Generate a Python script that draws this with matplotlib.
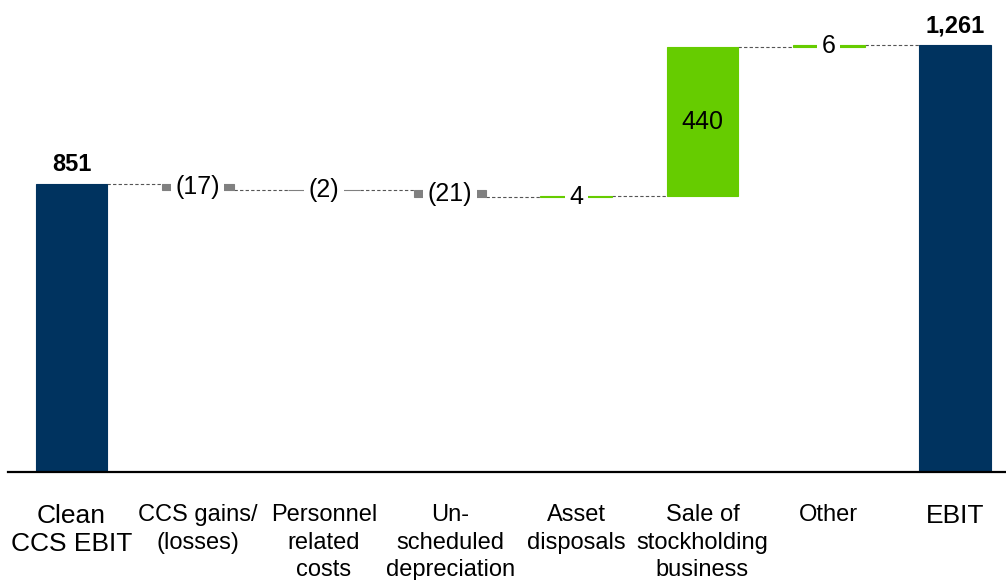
import matplotlib
matplotlib.use("Agg")
import matplotlib.pyplot as plt

categories = ["Clean\nCCS EBIT", "CCS gains/\n(losses)", "Personnel\nrelated\ncosts",
              "Un-\nscheduled\ndepreciation", "Asset\ndisposals", "Sale of\nstockholding\nbusiness",
              "Other", "EBIT"]
values = [851, -17, -2, -21, 4, 440, 6, 1261]
kinds = ["total", "delta", "delta", "delta", "delta", "delta", "delta", "total"]
value_labels = ["851", "(17)", "(2)", "(21)", "4", "440", "6", "1,261"]

NAVY = "#00335F"
GREEN = "#66CC00"
GREY = "#808080"
plt.rcParams["font.family"] = ["Liberation Sans", "DejaVu Sans"]

fig = plt.figure(figsize=(10.06, 5.8), dpi=100)
ax = fig.add_axes([8 / 1006, 108 / 580, 998 / 1006, 472 / 580])

width = 0.57
level = 0
tops = []
for i, (v, k) in enumerate(zip(values, kinds)):
    if k == "total":
        bottom, height, color = 0, v, NAVY
        level = v
    else:
        bottom = level if v > 0 else level + v
        height = abs(v)
        color = GREEN if v > 0 else GREY
        level = level + v
    ax.bar(i, height, bottom=bottom, width=width, color=color,
           edgecolor=color, linewidth=0.8, zorder=2)
    tops.append(level)

    # value labels
    if k == "total":
        ax.text(i, v + 22, value_labels[i], ha="center", va="bottom",
                fontsize=17, fontweight="bold", color="black", zorder=4)
    elif height > 100:
        ax.text(i, bottom + height / 2, value_labels[i], ha="center", va="center",
                fontsize=18, color="black", zorder=4)
    else:
        ax.text(i, bottom + height / 2, value_labels[i], ha="center", va="center",
                fontsize=18, color="black", zorder=4,
                bbox=dict(boxstyle="square,pad=0.18", fc="white", ec="none"))

# dashed connectors between consecutive bars
for i in range(len(values) - 1):
    ax.plot([i + width / 2, i + 1 - width / 2], [tops[i], tops[i]],
            color="#555555", linestyle=(0, (3, 2)), linewidth=0.8, zorder=1)

ax.set_xlim(-0.503, 7.405)
ax.set_ylim(0, 1394)
ax.set_yticks([])
ax.set_xticks(range(len(categories)))
ax.set_xticklabels(categories, fontsize=17, linespacing=1.33, va="top")
for j, lab in enumerate(ax.get_xticklabels()):
    if kinds[j] == "total":
        lab.set_fontsize(19)
        lab.set_linespacing(1.2)
ax.tick_params(axis="x", length=0, pad=23)

for side in ["top", "right", "left"]:
    ax.spines[side].set_visible(False)
ax.spines["bottom"].set_linewidth(1.6)
ax.spines["bottom"].set_color("black")

fig.savefig("out.png", dpi=100)
